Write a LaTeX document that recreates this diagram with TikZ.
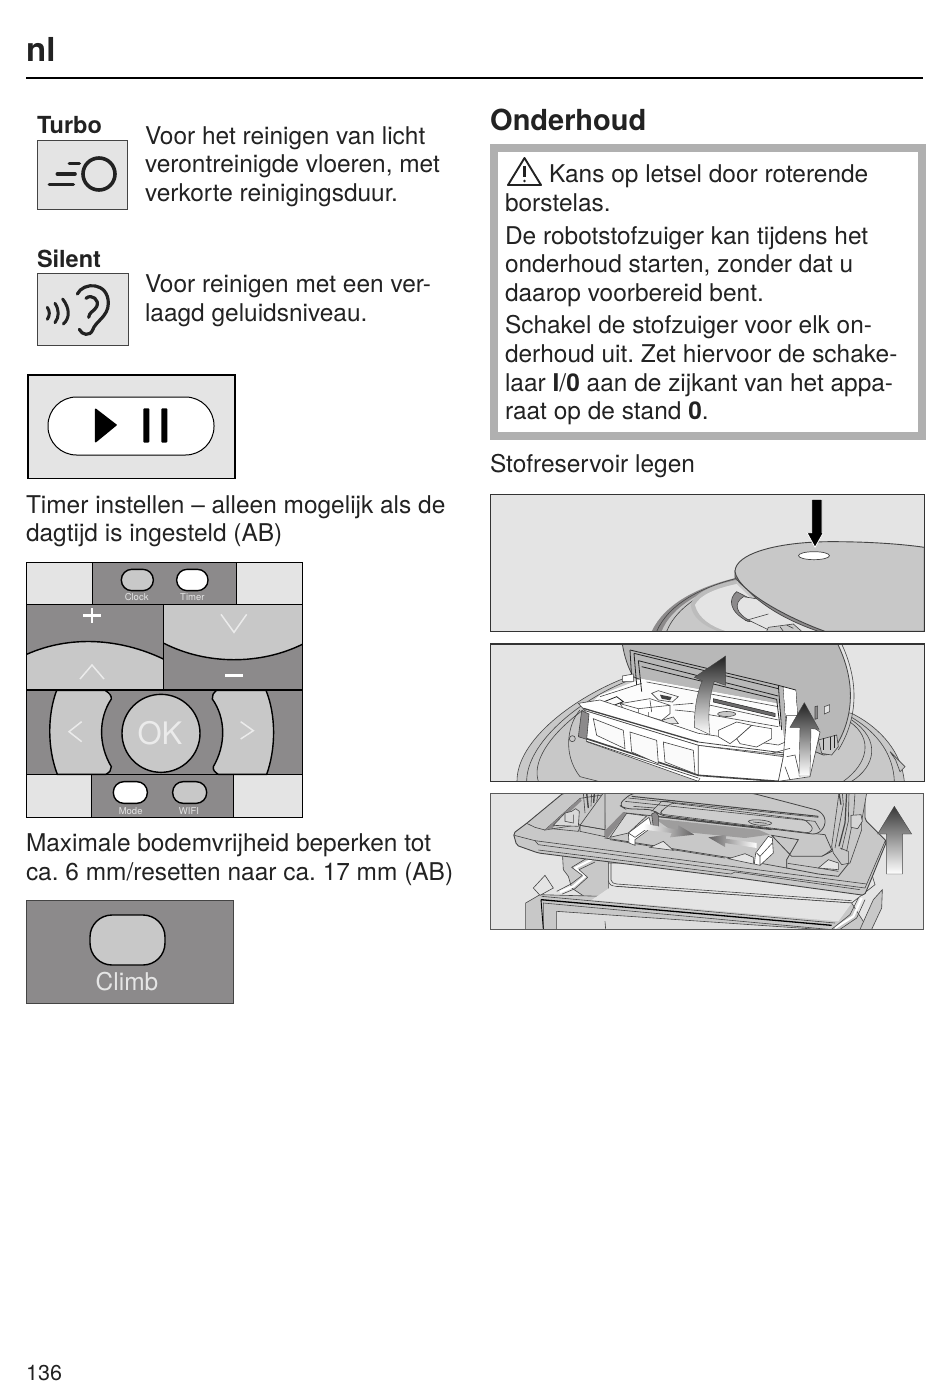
\documentclass[tikz,border=0pt]{standalone}
\usepackage{fontspec}
\setmainfont{TeX Gyre Heros}
\definecolor{ink}{HTML}{222222}
\definecolor{pale}{HTML}{E4E4E4}
\definecolor{midg}{HTML}{C8C8C8}
\definecolor{darkg}{HTML}{8C8A8B}
\definecolor{warn}{HTML}{B0B0B0}
\definecolor{edge}{HTML}{444444}
\tikzset{
 zm/.style 2 args={shift={(#1,#2)},x=0.33333pt,y=-0.33333pt},
 txt/.style={anchor=base west,inner sep=0pt,outer sep=0pt,text=ink,font=\fontsize{24.45}{29}\selectfont},
 hd/.style={anchor=base west,inner sep=0pt,outer sep=0pt,text=ink,font=\fontsize{23.5}{28}\selectfont\bfseries},
 pad/.style={draw=edge,line width=.8pt,fill=pale},
 blk/.style={draw=black,line width=1.4pt},
 ico/.style={draw=ink,line width=3.2pt,line cap=round,line join=round},
 lab/.style={anchor=base,inner sep=0pt,text=pale,font=\fontsize{9.5}{11}\selectfont},
 chev/.style={draw=white!92!black,line width=1.5pt},
 ln/.style={draw=edge,line width=.6pt},
 pic/.style={draw=black!80,line width=1.2pt},
}
\begin{document}
\frenchspacing
\begin{tikzpicture}[x=1pt,y=-1pt]
\useasboundingbox (0,0) rectangle (950,1389);
\fill[white] (0,0) rectangle (950,1389);
% header
\node[anchor=base west,inner sep=0pt,text=ink,font=\fontsize{33}{36}\selectfont\bfseries] (nl) at (26,62) {nl};
\draw[black,line width=1.3pt] (26,78) -- (923,78);
% Turbo
\node[hd] (turbo) at (37,133) {Turbo};
\node[txt] (a1) at (145,144) {Voor het reinigen van licht};
\node[txt] (a2) at (145,172) {verontreinigde vloeren, met};
\node[txt] (a3) at (145,201) {verkorte reinigingsduur.};
\draw[pad] (37,140) rectangle (127,209);
\begin{scope}[zm={20}{100}]
\draw[ico,line width=3.6pt] (237,222) circle (16pt);
\draw[ico,line width=3.6pt] (148,190) -- (178,190) (112,222) -- (165,222) (88,254) -- (160,254);
\end{scope}
% Silent
\node[hd] (silent) at (37,267) {Silent};
\node[txt] (b1) at (145,292) {Voor reinigen met een ver-};
\node[txt] (b2) at (145,321) {laagd geluidsniveau.};
\draw[pad] (37,273) rectangle (128,345);
\begin{scope}[zm={20}{100}]
\draw[ico] (172,582) .. controls (190,545) and (265,545) .. (265,610) .. controls (265,650) and (225,665) .. (218,690) .. controls (210,710) and (185,705) .. (178,688);
\draw[ico] (198,595) .. controls (215,580) and (240,600) .. (230,620) .. controls (222,635) and (208,635) .. (206,652);
\draw[ico,line width=3pt] (82,622) .. controls (90,635) and (90,645) .. (82,658);
\draw[ico,line width=3pt] (105,610) .. controls (118,630) and (118,650) .. (105,668);
\draw[ico,line width=3pt] (128,597) .. controls (150,625) and (150,655) .. (130,672);
\end{scope}
% play
\draw[pad,draw=black,line width=1.2pt] (28,375) rectangle (235,478.5);
\draw[draw=black,line width=1pt,fill=white,rounded corners=28.5pt] (48,397) rectangle (214,455);
\begin{scope}[zm={20}{100}]
\fill[black,draw=black,line width=1.5pt,line join=round] (227,928) -- (288,975) -- (227,1025) -- cycle;
\fill[black,rounded corners=1pt] (370,925) rectangle (388,1028);
\fill[black,rounded corners=1pt] (424,925) rectangle (442,1028);
\end{scope}
\node[txt] (c1) at (26,513) {Timer instellen – alleen mogelijk als de};
\node[txt] (c2) at (26,541) {dagtijd is ingesteld (AB)};
% remote
\begin{scope}[zm={20}{555}]
\fill[darkg] (20,22) rectangle (847,787);
\fill[pale] (20,22) rectangle (217,148);
\fill[pale] (650,22) rectangle (847,148);
\fill[pale] (20,658) rectangle (214,787);
\fill[pale] (640,658) rectangle (847,787);
\fill[midg] (20,298) .. controls (150,240) and (300,250) .. (430,312) -- (430,405) -- (20,405) -- cycle;
\fill[midg] (432,150) -- (847,150) -- (847,268) .. controls (720,330) and (560,330) .. (432,265) -- cycle;
\draw[blk] (20,298) .. controls (150,240) and (300,250) .. (430,312);
\draw[blk] (432,265) .. controls (560,330) and (720,330) .. (847,268);
\filldraw[blk,fill=midg] (110,406) .. controls (82,480) and (82,580) .. (112,658) -- (258,658) .. controls (268,652) and (275,645) .. (274,635) .. controls (235,570) and (235,490) .. (274,432) .. controls (275,422) and (268,414) .. (255,406) -- cycle;
\filldraw[blk,fill=midg] (738,406) .. controls (768,480) and (768,580) .. (740,658) -- (595,658) .. controls (585,652) and (578,645) .. (580,635) .. controls (618,570) and (618,490) .. (577,432) .. controls (575,422) and (580,414) .. (590,406) -- cycle;
\filldraw[blk,fill=midg] (423,535) circle (39pt);
\draw[blk] (20,22) rectangle (847,787);
\draw[blk] (20,149) -- (847,149) (20,405) -- (847,405) (20,658) -- (847,658);
\draw[blk] (217,22) -- (217,149) (650,22) -- (650,149) (431,149) -- (431,405) (214,658) -- (214,787) (640,658) -- (640,787);
\draw[blk,fill=midg,rounded corners=10.5pt] (304,43) rectangle (400,107);
\draw[blk,fill=white,rounded corners=10.5pt] (470,43) rectangle (564,107);
\draw[blk,fill=white,rounded corners=10.5pt] (280,680) rectangle (382,745);
\draw[blk,fill=midg,rounded corners=10.5pt] (458,680) rectangle (560,745);
\node[lab] (clock) at (350,137) {Clock};
\node[lab] (timer) at (517,137) {Timer};
\node[lab] (mode) at (332,777) {Mode};
\node[lab] (wifi) at (507,777) {WIFI};
\draw[white,line width=2.4pt] (190,182) -- (242,182) (216,160) -- (216,204);
\draw[white,line width=2.8pt] (616,362) -- (670,362);
\draw[chev] (180,372) -- (216,330) -- (252,372);
\draw[chev] (603,178) -- (642,232) -- (680,178);
\draw[chev] (185,500) -- (147,530) -- (185,560);
\draw[chev] (662,500) -- (700,527) -- (662,552);
\node[inner sep=0pt,text=white!92!black,font=\fontsize{31}{33}\selectfont] (ok) at (420,536) {OK};
\end{scope}
\node[txt] (d1) at (26,851) {Maximale bodemvrijheid beperken tot};
\node[txt] (d2) at (26,880) {ca. 6 mm/resetten naar ca. 17 mm (AB)};
% climb
\draw[draw=edge,line width=.8pt,fill=darkg] (26,900) rectangle (233,1003);
\draw[blk,fill=midg,rounded corners=22pt] (90,915) rectangle (165,965);
\node[inner sep=0pt,anchor=base,text=white!90!black,font=\fontsize{24.5}{26}\selectfont] (climb) at (127,990) {Climb};
% page number
\node[anchor=base west,inner sep=0pt,text=ink,font=\fontsize{21.5}{24}\selectfont] (page) at (26,1380) {136};
% right column
\node[anchor=base west,inner sep=0pt,text=ink,font=\fontsize{29}{32}\selectfont\bfseries] (head) at (490,130) {Onderhoud};
\draw[warn,line width=8pt,fill=white] (494,148) rectangle (922,436);
\draw[ink,line width=1.9pt,line join=round] (524.5,158) -- (541,185) -- (508,185) -- cycle;
\draw[ink,line width=2.4pt] (524.5,166) -- (524.5,177);
\fill[ink] (524.5,181) circle (1.4pt);
\node[txt] (w1) at (549,182) {Kans op letsel door roterende};
\node[txt] (w2) at (505,211) {borstelas.};
\node[txt] (w3) at (505,244) {De robotstofzuiger kan tijdens het};
\node[txt] (w4) at (505,272) {onderhoud starten, zonder dat u};
\node[txt] (w5) at (505,301) {daarop voorbereid bent.};
\node[txt] (w6) at (505,333) {Schakel de stofzuiger voor elk on-};
\node[txt] (w7) at (505,362) {derhoud uit. Zet hiervoor de schake-};
\node[txt] (w8) at (505,391) {laar \textbf{I}/\textbf{0} aan de zijkant van het appa-};
\node[txt] (w9) at (505,419) {raat op de stand \textbf{0}.};
\node[txt] (s1) at (490,472) {Stofreservoir legen};
% ---------- image 1
\begin{scope}[zm={485}{490}]
\begin{scope}
\clip (16,13) rectangle (1318,424);
\fill[pale] (16,13) rectangle (1318,424);
\fill[darkg] (500,424) .. controls (540,340) and (640,290) .. (760,262) -- (900,424) -- cycle;
\fill[midg] (530,424) .. controls (560,350) and (650,300) .. (760,268) -- (900,424) -- cycle;
\draw[ln] (515,424) .. controls (550,345) and (640,295) .. (755,265);
\draw[ln] (545,424) .. controls (575,350) and (660,300) .. (755,272);
\fill[midg!80!darkg] (617,345) .. controls (625,310) and (680,285) .. (755,270) -- (755,282) .. controls (690,296) and (645,315) .. (630,345) .. controls (640,385) and (680,410) .. (725,424) -- (700,424) .. controls (650,405) and (622,380) .. (617,345) -- cycle;
\fill[pale] (725,424) .. controls (680,410) and (640,385) .. (630,345) .. controls (645,315) and (690,296) .. (755,282) -- (900,424) -- cycle;
\filldraw[ln,fill=darkg] (755,305) .. controls (730,325) and (730,365) .. (790,395) -- (900,380) -- cycle;
\filldraw[ln,fill=pale] (775,320) .. controls (745,340) and (750,370) .. (800,395) -- (860,424) -- (1000,424) -- (900,340) -- cycle;
\draw[ln] (780,392) -- (850,372);
\filldraw[ln,fill=midg] (845,424) -- (850,412) -- (925,402) -- (950,424) -- cycle;
\draw[ln] (885,410) -- (895,424) (905,405) -- (925,415);
\filldraw[draw=edge,line width=.7pt,fill=darkg] (750,245) -- (750,262) .. controls (800,330) and (950,390) .. (1060,424) -- (1000,424) .. controls (900,390) and (790,330) .. (750,245) -- cycle;
\filldraw[draw=edge,line width=.9pt,fill=midg] (750,245) .. controls (750,190) and (880,155) .. (1040,155) .. controls (1150,155) and (1250,162) .. (1318,172) -- (1318,424) -- (1020,424) .. controls (930,392) and (760,310) .. (750,245) -- cycle;
\filldraw[draw=edge,line width=.7pt,fill=white] (987,197) ellipse (15.5pt and 4pt);
\fill[black,draw=white,line width=.8pt] (980,28) -- (1011,28) -- (1011,128) -- (1015,128) -- (990,172) -- (966,128) -- (980,128) -- cycle;
\end{scope}
\draw[pic] (16,13) rectangle (1318,424);
\end{scope}
% ---------- image 2
\begin{scope}[zm={485}{640}]
\begin{scope}
\clip (16,12) rectangle (1318,424);
\fill[pale] (16,12) rectangle (1318,424);
% body
\filldraw[ln,fill=midg] (96,424) .. controls (95,300) and (270,170) .. (430,110) -- (1100,220) .. controls (1190,265) and (1250,340) .. (1258,424) -- cycle;
\draw[ln] (125,424) .. controls (125,310) and (280,180) .. (430,122);
\draw[ln] (1100,232) .. controls (1180,280) and (1225,345) .. (1228,424);
\draw[ln] (160,424) .. controls (130,330) and (280,195) .. (430,135);
\draw[ln] (1095,246) .. controls (1165,295) and (1150,370) .. (1075,424);
\draw[ln] (1100,240) .. controls (1190,300) and (1170,380) .. (1100,424);
\filldraw[ln,fill=midg] (1215,335) -- (1260,380) -- (1245,395) -- (1232,360) -- cycle;
\draw[ln] (285,210) .. controls (250,250) and (230,340) .. (285,410) -- (340,424);
\draw[ln] (262,296) circle (3pt);
% lid
\filldraw[draw=edge,line width=.8pt,fill=midg!92!black] (412,12) .. controls (418,50) and (430,85) .. (445,110) -- (1015,345) .. controls (1025,345) and (1035,345) .. (1045,331) .. controls (1100,250) and (1120,140) .. (1058,12) -- cycle;
\draw[ln] (1070,12) .. controls (1130,140) and (1110,250) .. (1060,330);
\filldraw[ln,fill=darkg] (990,200) -- (998,198) -- (998,235) -- (990,238) -- cycle;
\filldraw[ln,fill=pale] (1018,200) -- (1034,194) -- (1034,215) -- (1018,222) -- cycle;
% interior
\fill[white!90!pale] (470,116) -- (880,190) -- (905,340) -- (640,300) -- (300,205) -- (345,165) -- cycle;
\draw[ln] (485,126) -- (880,200) (345,170) -- (470,130);
\filldraw[ink,line width=.5pt,fill=darkg!70!ink] (685,176) -- (870,220) -- (870,230) -- (685,186) -- cycle;
\draw[ln] (650,190) -- (880,240) (620,215) -- (880,260);
\filldraw[ln,fill=midg] (725,222) ellipse (9pt and 2.5pt);
% grille and scraps
\filldraw[ln,fill=white!80!pale] (500,160) -- (520,152) -- (580,170) -- (562,186) -- (520,180) -- cycle;
\fill[ink!85] (525,164) -- (560,171) -- (555,181) -- (530,176) -- cycle;
\draw[ln] (565,195) -- (625,190) (570,210) -- (620,215);
\filldraw[ln,fill=pale] (530,241) -- (565,231) -- (580,251) -- (540,251) -- cycle;
% white block left
\filldraw[ln,fill=white] (405,191) -- (495,176) -- (555,196) -- (555,221) -- (530,241) -- (460,221) -- (415,206) -- cycle;
\draw[ln] (405,191) -- (460,206) -- (555,196) (460,206) -- (460,221) (495,181) -- (500,216) (490,216) -- (490,236);
\draw[ink,line width=.8pt] (345,190) -- (395,170) -- (415,185) -- (375,200) -- cycle;
% tray front
\filldraw[ln,fill=white] (280,190) -- (345,180) -- (640,280) -- (880,315) -- (915,300) -- (905,345) -- (640,316) -- (300,212) -- cycle;
\filldraw[ln,fill=white] (300,212) -- (640,316) -- (895,350) -- (880,424) -- (640,424) -- (305,305) -- cycle;
\draw[edge,line width=1.3pt] (295,205) -- (640,306);
\draw[edge,line width=.8pt] (640,306) -- (905,340) (640,316) -- (640,408);
\draw[edge,line width=1.6pt] (305,296) -- (640,406) -- (880,424);
\draw[edge,line width=.7pt] (305,304) -- (640,414);
\foreach \a/\b/\c/\d/\e/\f/\g/\h in {325/236/415/271/420/326/335/286,435/276/515/301/520/371/440/336,535/306/625/331/630/401/540/366}
 {\filldraw[ln,fill=white!80!pale] (\a,\b) -- (\c,\d) -- (\e,\f) -- (\g,\h) -- cycle;}
\filldraw[ln,fill=darkg] (290,212) -- (280,290) -- (305,298) -- (312,222) -- cycle;
\draw[ln] (640,424) -- (645,414);
% right blocks
\filldraw[ln,fill=white] (700,271) -- (755,246) -- (800,256) -- (755,296) -- (735,311) -- (700,290) -- cycle;
\filldraw[ln,fill=white] (755,296) -- (800,256) -- (860,266) -- (860,296) -- (815,321) -- (765,311) -- cycle;
% handle
\fill[midg!92!black] (465,62) -- (880,170) -- (880,190) -- (470,116) -- cycle;
\draw[ink,line width=.8pt] (435,30) -- (880,136) -- (932,150) (447,40) -- (880,146) (460,62) -- (880,168) (470,80) -- (875,178) -- (885,260);
\draw[ink,line width=.8pt] (435,30) -- (440,115) (447,40) -- (455,135) (460,62) -- (470,155) (880,136) -- (890,270) (895,140) -- (905,275) (932,150) -- (938,240);
\fill[white] (895,142) -- (932,152) -- (938,240) -- (905,275) -- cycle;
\filldraw[ln,fill=white] (412,108) -- (445,102) -- (445,125) -- (412,125) -- cycle;
% right bits
\filldraw[ln,fill=white] (905,226) -- (935,226) -- (1005,276) -- (975,410) -- (880,424) -- (895,350) -- cycle;
\draw[ln] (905,350) -- (930,345) -- (945,410) (900,380) -- (915,420) (860,340) -- (915,325);
\filldraw[ln,fill=midg] (1000,300) -- (1055,285) -- (1060,320) -- (1040,345) -- (1010,340) -- cycle;
\draw[ink,line width=1pt] (1015,295) -- (1015,330) (1035,290) -- (1035,330) (1048,285) -- (1048,325);
% arrows
\shade[top color=ink,bottom color=white,draw=edge,line width=.4pt] (628,262) .. controls (628,210) and (635,160) .. (652,122) -- (628,112) -- (722,48) -- (722,136) -- (688,124) .. controls (672,170) and (668,230) .. (675,284) -- cycle;
\shade[top color=ink,bottom color=white,draw=edge,line width=.4pt] (942,408) -- (945,262) -- (915,262) -- (958,188) -- (1002,268) -- (978,266) -- (975,408) -- cycle;
\end{scope}
\draw[pic] (16,12) rectangle (1318,424);
\end{scope}
% ---------- image 3
\begin{scope}[zm={485}{788}]
\begin{scope}
\clip (16,15) rectangle (1316,424);
\fill[pale] (16,15) rectangle (1316,424);
% box below
\filldraw[ln,fill=midg] (232,190) -- (235,245) -- (250,265) -- (260,300) -- (320,340) -- (370,340) -- (370,190) -- cycle;
\draw[ln,fill=pale] (370,225) -- (370,278) .. controls (372,290) and (380,294) .. (392,295) -- (1100,345) -- (1170,290) -- (1150,225) -- cycle;
\draw[ln] (378,225) -- (378,276) .. controls (380,284) and (386,287) .. (395,288) -- (1100,338);
\filldraw[ln,fill=midg] (122,345) -- (165,320) -- (1100,345) -- (1150,424) -- (122,424) -- cycle;
\fill[pale] (380,295) -- (1100,345) -- (1060,400) -- (320,336) -- cycle;
\draw[ln] (392,295) -- (1100,345) (170,325) -- (1050,405);
\filldraw[ln,fill=midg] (175,345) -- (1030,424) -- (175,424) -- cycle;
\filldraw[ln,fill=pale!75!midg] (215,370) -- (1000,424) -- (215,424) -- cycle;
\draw[ln] (360,400) -- (362,424);
\draw[black,line width=1.3pt] (168,335) -- (1040,412);
\draw[black,line width=.9pt] (168,335) -- (175,424);
\draw[ln,fill=pale] (145,300) -- (180,262) -- (205,300) -- (165,322) -- cycle;
\draw[white,line width=2.2pt,line join=round] (225,312) -- (265,295) -- (300,265) -- (270,240) -- (320,215);
\draw[edge,line width=.6pt,line join=round] (215,310) -- (258,288) -- (292,262) -- (260,238) -- (310,208) (232,318) -- (270,302) -- (308,268) -- (282,245) -- (330,222);
\filldraw[ln,fill=midg] (1165,335) -- (1192,305) -- (1190,360) -- (1160,424) -- (1125,424) -- cycle;
\draw[white,line width=2.2pt,line join=round] (1050,420) -- (1105,385) -- (1130,330);
\draw[edge,line width=.6pt,line join=round] (1040,424) -- (1095,380) -- (1120,330) (1065,424) -- (1115,390) -- (1140,335);
% frame
\filldraw[draw=edge,line width=.9pt,fill=midg,rounded corners=2pt] (85,136) -- (125,106) -- (235,15) -- (1140,15) -- (1140,95) -- (1205,160) -- (1150,295) -- (1138,322) -- (745,268) -- (160,195) -- (95,172) -- cycle;
\draw[ln] (160,170) -- (1140,300) -- (1200,160);
\draw[ln] (88,142) -- (150,158) -- (1145,288);
\draw[ln] (160,186) -- (738,258) -- (750,252) -- (1125,305);
\draw[ln] (150,158) -- (160,170) (125,106) -- (150,118) -- (180,126);
% left recess
\filldraw[ln,fill=midg] (180,126) -- (285,31) -- (358,20) -- (360,120) -- (282,110) -- cycle;
\fill[darkg] (180,126) -- (285,31) -- (290,38) -- (200,122) -- cycle;
\filldraw[ln,fill=midg!70!white] (205,112) -- (240,75) -- (260,70) -- (272,62) -- (283,70) -- (280,115) -- cycle;
\draw[ln] (240,75) -- (240,100) -- (265,105) -- (265,80) (200,122) -- (280,130) -- (285,115);
\filldraw[ln,fill=midg] (285,112) -- (355,15) -- (360,15) -- (360,125) -- cycle;
\draw[ln] (295,15) -- (300,75) (320,15) -- (318,55) (340,15) -- (335,40) (285,112) -- (360,125) -- (360,146) -- (285,130) -- cycle;
\draw[edge,line width=1.4pt] (305,15) -- (310,60) (328,15) -- (326,45);
% opening
\filldraw[draw=edge,line width=.7pt,fill=midg] (360,150) -- (415,74) -- (1020,140) -- (1040,185) -- (1000,215) -- (905,215) -- (905,240) -- (740,210) -- cycle;
\fill[darkg] (360,128) -- (415,72) -- (425,76) -- (368,150) -- (360,150) -- cycle;
\filldraw[ln,fill=pale!60!midg] (425,76) -- (485,84) -- (430,135) -- (375,148) -- cycle;
% floor and strips
\fill[darkg!70!midg] (510,92) -- (820,125) -- (855,140) -- (780,150) -- (560,128) -- cycle;
\draw[edge,line width=.9pt] (510,85) -- (860,125);
\draw[ln] (375,155) -- (720,210);
\filldraw[ln,fill=pale] (495,178) -- (535,160) -- (565,187) -- cycle;
\filldraw[ln,fill=pale] (730,212) -- (780,197) -- (805,208) -- (805,228) -- cycle;
% lid frame
\filldraw[draw=edge,line width=.8pt,fill=midg,rounded corners=6pt] (400,50) -- (440,15) -- (800,15) -- (1010,70) -- (1025,105) -- (1000,140) -- (960,135) -- (525,82) -- (505,65) -- (420,62) -- cycle;
\filldraw[ln,fill=midg!90!white,rounded corners=3pt] (530,68) -- (560,45) -- (960,95) -- (985,120) -- (975,135) -- (525,78) -- cycle;
\draw[ln] (420,40) -- (990,100) -- (1005,125) (430,30) -- (1000,88) (445,55) -- (510,60) (500,70) -- (530,40) -- (570,38);
\draw[edge,line width=1pt] (440,25) -- (1000,85);
\filldraw[ln,fill=midg] (790,100) .. controls (795,92) and (850,95) .. (860,105) .. controls (860,115) and (800,115) .. (790,100) -- cycle;
\draw[ln] (805,102) -- (845,106);
\filldraw[ln,fill=darkg] (500,78) -- (512,72) -- (520,82) -- (520,118) -- (505,118) -- cycle;
% white blocks
\filldraw[ln,fill=white] (430,135) -- (492,88) -- (500,118) -- (450,155) -- (450,172) -- (432,165) -- cycle;
\draw[ln] (430,135) -- (450,148) -- (500,112);
\filldraw[ln,fill=white] (812,195) -- (850,145) -- (862,150) -- (865,195) -- (825,232) -- (808,228) -- cycle;
\draw[ln] (825,205) -- (862,165) (815,195) -- (825,205) -- (825,232);
% small arrows
\shade[left color=white,right color=darkg!70!black] (480,108) -- (578,125) -- (580,112) -- (628,140) -- (555,148) -- (560,135) -- (475,125) -- cycle;
\shade[left color=darkg!70!black,right color=white] (670,148) -- (725,140) -- (722,152) -- (815,165) -- (815,180) -- (720,165) -- (720,177) -- cycle;
% right part of floor
\filldraw[draw=edge,line width=.8pt,fill=midg] (860,142) -- (940,155) -- (905,215) -- (905,240) -- (1000,258) -- (1060,265) -- (1092,225) -- (1050,185) -- (1010,205) -- (920,205) -- cycle;
\draw[ln] (908,226) -- (1000,240) -- (1060,250);
\filldraw[ln,fill=pale] (1000,240) -- (1030,215) -- (1060,225) -- (1060,245) -- cycle;
% right uprights
\filldraw[ln,fill=midg] (1040,175) -- (1062,15) -- (1145,15) -- (1130,100) -- (1130,125) -- (1095,225) -- (1070,230) -- (1045,195) -- cycle;
\draw[ln] (1072,15) -- (1075,50) -- (1050,180) (1092,15) -- (1090,100) -- (1070,185) (1110,15) -- (1105,90) -- (1085,190) (1065,180) -- (1090,190) -- (1090,225);
\filldraw[ln,fill=pale!50!midg] (1098,82) -- (1128,80) -- (1132,100) -- (1118,122) -- (1098,118) -- cycle;
\draw[edge,line width=1.2pt] (1062,15) -- (1068,50) (1085,15) -- (1080,105) -- (1062,175);
% tall arrow
\shade[top color=ink!90,bottom color=white,draw=edge,line width=.4pt] (1205,258) -- (1205,138) -- (1178,138) -- (1228,55) -- (1280,138) -- (1252,138) -- (1252,258) -- cycle;
\end{scope}
\draw[draw=black!65,line width=1pt] (16,15) rectangle (1316,424);
\end{scope}
\end{tikzpicture}
\end{document}
